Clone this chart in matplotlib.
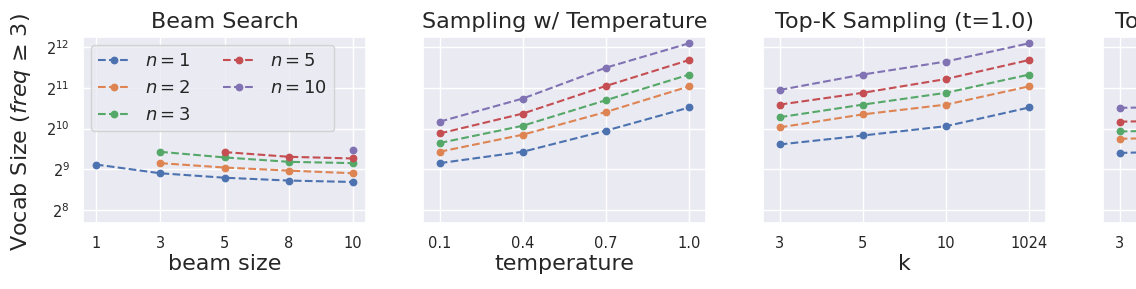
import matplotlib
matplotlib.use("Agg")
import matplotlib.pyplot as plt
import seaborn as sns
import numpy as np

sns.set_theme(style="darkgrid")
plt.rcParams['font.family'] = ['DejaVu Sans']

# ---------------- data ----------------
series_labels = ["$n=1$", "$n=2$", "$n=3$", "$n=5$", "$n=10$"]

beam_sizes = ["1", "3", "5", "8", "10"]
# values (None = not available, beam size < n)
beam_vals = [
    [555, 478, 443, 422, 412],
    [None, 568, 527, 500, 478],
    [None, 689, 626, 581, 568],
    [None, None, 686, 633, 615],
    [None, None, None, None, 710],
]

temperatures = ["0.1", "0.4", "0.7", "1.0"]
temp_vals = [
    [568, 690, 989, 1468],
    [690, 923, 1360, 2105],
    [801, 1075, 1663, 2574],
    [942, 1323, 2120, 3300],
    [1152, 1710, 2896, 4390],
]

topk_ks = ["3", "5", "10", "1024"]
topk_vals = [
    [781, 910, 1067, 1468],
    [1045, 1305, 1541, 2105],
    [1243, 1541, 1885, 2574],
    [1541, 1885, 2385, 3300],
    [1978, 2574, 3213, 4390],
]

topk2_ks = ["3", "5", "10", "1024"]
topk2_vals = [
    [676, 700, 740, 800],
    [861, 880, 920, 990],
    [975, 1000, 1040, 1110],
    [1152, 1180, 1230, 1300],
    [1458, 1490, 1540, 1620],
]

panels = [
    ("Beam Search", "beam size", beam_sizes, beam_vals),
    ("Sampling w/ Temperature", "temperature", temperatures, temp_vals),
    ("Top-K Sampling (t=1.0)", "k", topk_ks, topk_vals),
    ("Top-K Sampling (t=0.7)", "k", topk2_ks, topk2_vals),
]

colors = sns.color_palette("deep")

W, H = 1136, 289
fig = plt.figure(figsize=(W / 100, H / 100), dpi=100)

lefts = [83, 423, 763, 1103]
ax_w, top, bottom = 283, 36.7, 223.3
axes = []
for i, (title, xlabel, cats, vals) in enumerate(panels):
    ax = fig.add_axes([lefts[i] / W, 1 - bottom / H, ax_w / W, (bottom - top) / H],
                      sharey=axes[0] if axes else None)
    axes.append(ax)
    x = np.arange(len(cats))
    for j, (lab, row) in enumerate(zip(series_labels, vals)):
        xs = [xi for xi, v in zip(x, row) if v is not None]
        ys = [v for v in row if v is not None]
        ax.plot(xs, ys, linestyle="--", marker="o", markersize=4.6, linewidth=1.5,
                color=colors[j], label=lab)
    ax.set_xticks(x)
    if i < 3:
        ax.set_xticklabels(cats, fontsize=10.5)
        ax.set_xlabel(xlabel, fontsize=16, labelpad=2)
    else:
        # panel is cropped at the figure edge: only the first tick label is visible
        ax.set_xticklabels([c if k == 0 else "" for k, c in enumerate(cats)], fontsize=10.5)
    ax.set_xlim(-0.2, len(cats) - 0.8)
    ax.set_title(title, fontsize=16)
    ax.tick_params(axis="y", labelsize=10.5)
    if i > 0:
        plt.setp(ax.get_yticklabels(), visible=False)

ax0 = axes[0]
ax0.set_yscale("log", base=2)
ax0.set_ylim(2 ** 7.67, 2 ** 12.26)
ax0.set_yticks([2 ** 8, 2 ** 9, 2 ** 10, 2 ** 11, 2 ** 12])
ax0.set_ylabel(r"Vocab Size ($freq$ ≥ 3)", fontsize=16)
ax0.yaxis.set_label_coords(-0.177, 0.49)
ax0.legend(loc="upper left", ncol=2, fontsize=13, handlelength=1.7,
           handletextpad=0.9, borderaxespad=0.45, labelspacing=0.5, columnspacing=1.8)

fig.savefig("out.png", dpi=100)
